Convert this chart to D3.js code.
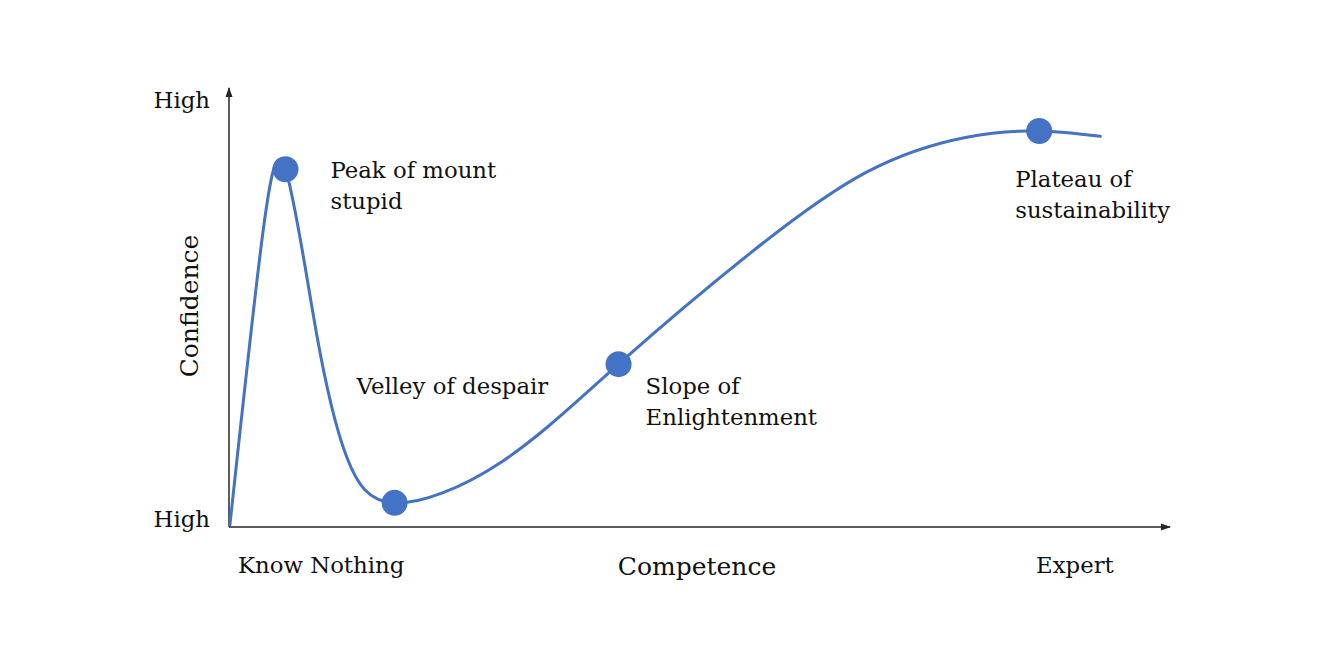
<!DOCTYPE html>
<html>
<head>
<meta charset="utf-8">
<script src="https://cdn.jsdelivr.net/npm/d3@7"></script>
<style>
  html, body { margin: 0; padding: 0; background: #fff; }
  svg { display: block; }
  text { font-family: "DejaVu Serif", "Liberation Serif", serif; fill: #111; }
</style>
</head>
<body>
<svg id="chart" width="1317" height="662"></svg>
<script>
// ---- data (competence 0-100, confidence 0-100) ----
const competence = [0.1, 3.5, 6.0, 9.3, 12.5, 17.6, 28.8, 41.4, 55.4, 67.8, 78.4, 86.1, 92.6];
const confidence = [0.5, 65.4, 81.5, 44.1, 16.0, 5.5, 14.6, 37.1, 62.4, 80.9, 88.8, 90.2, 89.0];

// key stages (index into the series)
const stageIndex = [2, 5, 7, 11];
const stageLabels = [["Peak of mount", "stupid"], ["Velley of despair"], ["Slope of", "Enlightenment"], ["Plateau of", "sustainability"]];

const xTickLabels = ["Know Nothing", "Expert"];
const xTickValues = [0, 90];
const yTickLabels = ["High", "High"];
const yTickValues = [100, 0];
const xAxisTitle = "Competence";
const yAxisTitle = "Confidence";

// ---- layout ----
const svg = d3.select("#chart");
const x0 = 229, x1 = 1170, y0 = 527, y1 = 88;
const x = d3.scaleLinear().domain([0, 100]).range([x0, x1]);
const y = d3.scaleLinear().domain([0, 100]).range([y0, y1]);

const blue = "#4472C4";
const axisColor = "#262626";
const fs = 22.8;

// arrow marker
svg.append("defs").append("marker")
  .attr("id", "arrow").attr("viewBox", "0 0 10 10")
  .attr("refX", 9).attr("refY", 5)
  .attr("markerWidth", 10).attr("markerHeight", 10)
  .attr("markerUnits", "userSpaceOnUse")
  .attr("orient", "auto")
  .append("path").attr("d", "M0,1.5 L10,5 L0,8.5 Z").attr("fill", axisColor);

// axes
svg.append("line")
  .attr("x1", x(0)).attr("y1", y(0)).attr("x2", x(0)).attr("y2", y(100))
  .attr("stroke", axisColor).attr("stroke-width", 1.5).attr("marker-end", "url(#arrow)");
svg.append("line")
  .attr("x1", x(0)).attr("y1", y(0)).attr("x2", x(100)).attr("y2", y(0))
  .attr("stroke", axisColor).attr("stroke-width", 1.5).attr("marker-end", "url(#arrow)");

// curve
const pts = competence.map((c, i) => [c, confidence[i]]);
const line = d3.line().x(d => x(d[0])).y(d => y(d[1])).curve(d3.curveNatural);
svg.append("path").datum(pts)
  .attr("d", line).attr("fill", "none")
  .attr("stroke", blue).attr("stroke-width", 3).attr("stroke-linecap", "round");

// stage dots
svg.selectAll("circle.stage").data(stageIndex).enter().append("circle")
  .attr("class", "stage")
  .attr("cx", i => x(competence[i])).attr("cy", i => y(confidence[i]))
  .attr("r", 13).attr("fill", blue);

// stage labels (offsets from the dot, in px)
const labelOffsets = [[45, 9], [-38, -109], [27, 30], [-24, 56]];
const lineH = 31;
stageIndex.forEach((idx, k) => {
  const t = svg.append("text")
    .attr("x", x(competence[idx]) + labelOffsets[k][0])
    .attr("y", y(confidence[idx]) + labelOffsets[k][1])
    .attr("font-size", fs);
  stageLabels[k].forEach((s, j) => {
    t.append("tspan").attr("x", x(competence[idx]) + labelOffsets[k][0])
      .attr("dy", j === 0 ? 0 : lineH).text(s);
  });
});

// y tick labels
svg.selectAll("text.ytick").data(yTickValues).enter().append("text")
  .attr("class", "ytick")
  .attr("x", x0 - 19).attr("y", d => y(d) + (d === 100 ? 20 : 0))
  .attr("text-anchor", "end").attr("font-size", fs)
  .text((d, i) => yTickLabels[i]);

// x tick labels
svg.selectAll("text.xtick").data(xTickValues).enter().append("text")
  .attr("class", "xtick")
  .attr("x", (d, i) => i === 0 ? x(d) + 9 : x(d) - 1)
  .attr("y", y0 + 46)
  .attr("text-anchor", (d, i) => i === 0 ? "start" : "middle")
  .attr("font-size", fs)
  .text((d, i) => xTickLabels[i]);

// axis titles
svg.append("text")
  .attr("x", 697).attr("y", y0 + 48)
  .attr("text-anchor", "middle").attr("font-size", 25)
  .text(xAxisTitle);
svg.append("text")
  .attr("transform", `translate(198, 306) rotate(-90)`)
  .attr("text-anchor", "middle").attr("font-size", 25)
  .text(yAxisTitle);
</script>
</body>
</html>
